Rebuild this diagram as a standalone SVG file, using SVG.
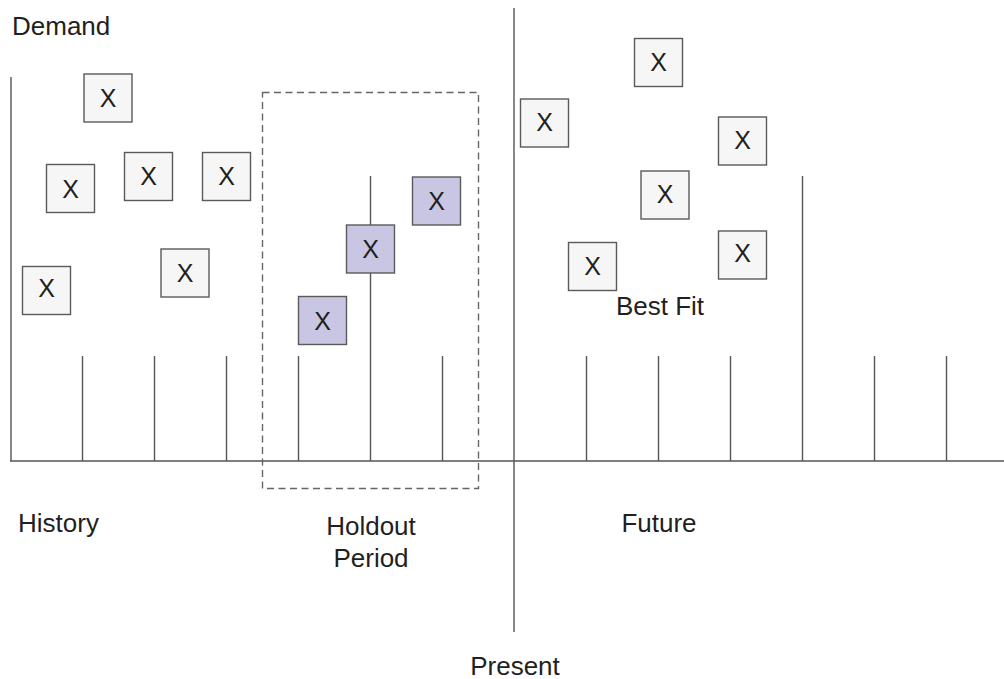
<svg xmlns="http://www.w3.org/2000/svg" width="1004" height="679" viewBox="0 0 1004 679">
  <style>
    .ln { stroke: #555555; stroke-width: 1.4; fill: none; }
    .dash { stroke: #666666; stroke-width: 1.4; fill: none; stroke-dasharray: 7 4.5; }
    .box { fill: #f6f6f6; stroke: #5a5a5a; stroke-width: 1.4; }
    .hb { fill: #c8c6e2; stroke: #5a5a5a; stroke-width: 1.4; }
    .x { font-family: "Liberation Sans", Arial, sans-serif; font-size: 25px; fill: #231f20; text-anchor: middle; }
    .lbl { font-family: "Liberation Sans", Arial, sans-serif; font-size: 26px; fill: #231f20; }
    .c { text-anchor: middle; }
  </style>
  <rect width="1004" height="679" fill="#ffffff"/>
  <g id="connectors">
    <line class="ln" x1="11" y1="77" x2="11" y2="461"/>
    <line class="ln" x1="10" y1="461" x2="1004" y2="461"/>
    <line class="ln" x1="514" y1="8" x2="514" y2="632"/>
    <line class="ln" x1="82.5" y1="356" x2="82.5" y2="461"/>
    <line class="ln" x1="154.5" y1="356" x2="154.5" y2="461"/>
    <line class="ln" x1="226.5" y1="356" x2="226.5" y2="461"/>
    <line class="ln" x1="298.5" y1="356" x2="298.5" y2="461"/>
    <line class="ln" x1="370.5" y1="176" x2="370.5" y2="461"/>
    <line class="ln" x1="442.5" y1="356" x2="442.5" y2="461"/>
    <line class="ln" x1="586.5" y1="356" x2="586.5" y2="461"/>
    <line class="ln" x1="658.5" y1="356" x2="658.5" y2="461"/>
    <line class="ln" x1="730.5" y1="356" x2="730.5" y2="461"/>
    <line class="ln" x1="802.5" y1="176" x2="802.5" y2="461"/>
    <line class="ln" x1="874.5" y1="356" x2="874.5" y2="461"/>
    <line class="ln" x1="946.5" y1="356" x2="946.5" y2="461"/>
  </g>
  <g id="holdout-region">
    <rect class="dash" x="262.5" y="92.5" width="216" height="396"/>
  </g>
  <g id="h1"><rect class="box" x="84" y="74" width="48" height="48"/><text class="x" x="108" y="107">X</text></g>
  <g id="h2"><rect class="box" x="46.5" y="164.5" width="48" height="48"/><text class="x" x="70.5" y="197.5">X</text></g>
  <g id="h3"><rect class="box" x="124.5" y="152.5" width="48" height="48"/><text class="x" x="148.5" y="185">X</text></g>
  <g id="h4"><rect class="box" x="202.5" y="152.5" width="48" height="48"/><text class="x" x="226.5" y="185">X</text></g>
  <g id="h5"><rect class="box" x="161" y="249" width="48" height="48"/><text class="x" x="185" y="281.5">X</text></g>
  <g id="h6"><rect class="box" x="22.5" y="266.5" width="48" height="48"/><text class="x" x="46.5" y="297">X</text></g>
  <g id="p1"><rect class="hb" x="298.5" y="296.5" width="48" height="48"/><text class="x" x="322.5" y="329.5">X</text></g>
  <g id="p2"><rect class="hb" x="346.5" y="225" width="48" height="48"/><text class="x" x="370.5" y="257.5">X</text></g>
  <g id="p3"><rect class="hb" x="412.5" y="177" width="48" height="48"/><text class="x" x="436.5" y="209.5">X</text></g>
  <g id="f1"><rect class="box" x="634.5" y="38.5" width="48" height="48"/><text class="x" x="658.5" y="71">X</text></g>
  <g id="f2"><rect class="box" x="520.5" y="99" width="48" height="48"/><text class="x" x="544.5" y="131">X</text></g>
  <g id="f3"><rect class="box" x="718.5" y="117" width="48" height="48"/><text class="x" x="742.5" y="149">X</text></g>
  <g id="f4"><rect class="box" x="641" y="171" width="48" height="48"/><text class="x" x="665" y="203">X</text></g>
  <g id="f5"><rect class="box" x="568.5" y="242.5" width="48" height="48"/><text class="x" x="592.5" y="275">X</text></g>
  <g id="f6"><rect class="box" x="718.5" y="231" width="48" height="48"/><text class="x" x="742.5" y="262">X</text></g>
  <g id="labels">
    <text class="lbl" x="12" y="35">Demand</text>
    <text class="lbl" x="18" y="532">History</text>
    <text class="lbl c" x="371" y="535">Holdout</text>
    <text class="lbl c" x="371" y="566.5">Period</text>
    <text class="lbl c" x="659" y="532">Future</text>
    <text class="lbl c" x="660" y="315">Best Fit</text>
    <text class="lbl c" x="515" y="675">Present</text>
  </g>
</svg>
